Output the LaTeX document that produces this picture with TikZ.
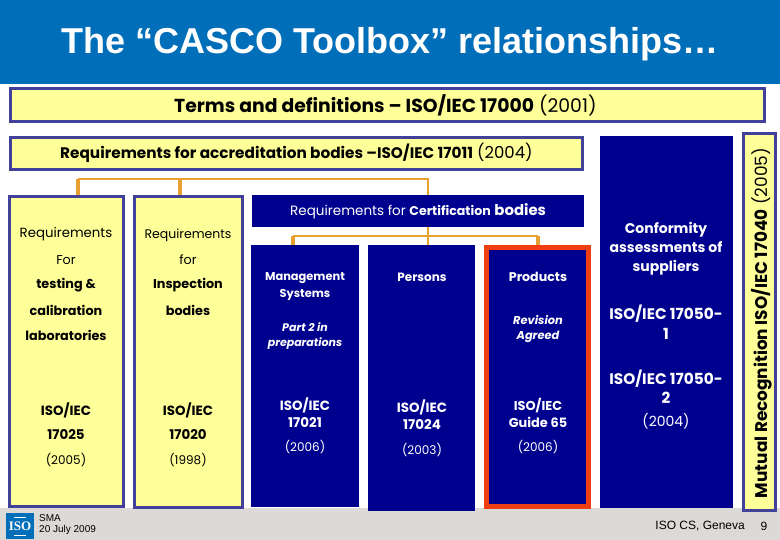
\documentclass[tikz,border=0pt]{standalone}
\usepackage{fontspec}
\setmainfont{Poppins}
\newfontfamily\titlefont{Liberation Sans}
\newfontfamily\logofont{Liberation Serif}
\definecolor{isoblue}{HTML}{006EB8}
\definecolor{darkbox}{HTML}{00008F}
\definecolor{edgeblue}{HTML}{41419B}
\definecolor{paleyellow}{HTML}{FFFF99}
\definecolor{linkorange}{HTML}{E8A030}
\definecolor{redframe}{HTML}{EE3E12}
\definecolor{footgray}{HTML}{DCD9D7}
\newcommand{\fsz}[1]{\fontsize{#1}{#1}\selectfont}
\tikzset{
  yellowbox/.style={draw=edgeblue, line width=3pt, fill=paleyellow, inner sep=0pt, anchor=north west},
  bluebox/.style={fill=darkbox, inner sep=0pt, anchor=north west},
  link/.style={draw=linkorange, line width=2pt},
  legthick/.style={draw=linkorange, line width=4pt},
  dark/.style={font=\fontsize{12.8}{14}\selectfont, text=black, inner sep=0pt, align=center},
  light/.style={font=\fontsize{12}{14}\selectfont, text=white, inner sep=0pt, align=center},
}
\begin{document}
\begin{tikzpicture}[x=1pt, y=-1pt]
\useasboundingbox (0, 0) rectangle (780, 540);
    \fill[white] (0, 0) rectangle (780, 540);
    \fill[footgray] (0, 508) rectangle (780, 540);
    \fill[isoblue] (0, 0) rectangle (780, 84);

    \node[anchor=west, inner sep=0pt, text=white, font=\titlefont\bfseries\fontsize{36}{40}\selectfont] (title) at (61, 44) {The “CASCO Toolbox” relationships…};

    % yellow bars
    \node[yellowbox, minimum width=754pt, minimum height=33pt] (terms) at (9, 87) {};
    \node[yellowbox, minimum width=572pt, minimum height=32pt] (accred) at (9, 136) {};
    \node[yellowbox, minimum width=114pt, minimum height=310pt] (testing) at (8, 195) {};
    \node[yellowbox, minimum width=108pt, minimum height=311pt] (inspect) at (133, 195) {};
    \node[yellowbox, minimum width=32pt, minimum height=377pt] (mutual) at (742, 132) {};

    % dark boxes
    \node[bluebox, minimum width=332pt, minimum height=32pt] (cert) at (252, 195) {};
    \node[bluebox, minimum width=108pt, minimum height=262pt] (mgmt) at (251, 245) {};
    \node[bluebox, minimum width=107pt, minimum height=266pt] (persons) at (368, 245) {};
    \node[bluebox, draw=redframe, line width=5pt, minimum width=102pt, minimum height=259pt] (products) at (484, 245) {};
    \node[bluebox, minimum width=133pt, minimum height=372pt] (conform) at (600, 136) {};

    % orange links
    \coordinate (upleft) at (78, 179);
    \coordinate (upmid) at (180, 179);
    \coordinate (upright) at (428, 179);
    \coordinate (lowleft) at (293, 236);
    \coordinate (lowmid) at (428, 236);
    \coordinate (lowright) at (538, 236);
    \draw[link] (upleft) -- (upright) -- (cert.north -| upright);
    \draw[legthick] (upleft) -- (testing.north -| upleft);
    \draw[legthick] (upmid) -- (inspect.north -| upmid);
    \draw[link] (cert.south -| lowmid) -- (mgmt.north -| lowmid);
    \draw[link] (lowleft) -- (lowright);
    \draw[legthick] (lowleft) -- (mgmt.north -| lowleft);
    \draw[legthick] (lowright) -- (products.north -| lowright);

    % bar labels
    \node[dark, anchor=west, font=\fsz{18.8}] (termstext) at (174, 105) {\textbf{Terms and definitions – ISO/IEC 17000} (2001)};
    \node[dark, anchor=west, font=\fsz{15.3}] (accredtext) at (60, 153) {\textbf{Requirements for accreditation bodies –ISO/IEC 17011} \fsz{16.5}(2004)};
    \node[light, anchor=west, font=\fsz{13.5}] (certtext) at (290, 211) {Requirements for \textbf{\fsz{12.6}Certification} \textbf{\fsz{14.9}bodies}};
    \node[dark, rotate=90, font=\fsz{16.9}] (mutualtext) at (762, 323) {\textbf{Mutual Recognition ISO/IEC 17040} (2005)};

    % testing column
    \node[dark, font=\fsz{13.3}] (t1) at (66, 234) {Requirements};
    \node[dark] (t2) at (66, 260) {For};
    \node[dark] (t3) at (66, 285) {\textbf{testing \&}};
    \node[dark] (t4) at (66, 310) {\textbf{calibration}};
    \node[dark] (t5) at (66, 335) {\textbf{laboratories}};
    \node[dark, font=\fsz{13.4}] (t6) at (66, 410) {\textbf{ISO/IEC}};
    \node[dark, font=\fsz{13.4}] (t7) at (66, 435) {\textbf{17025}};
    \node[dark, font=\fsz{12}] (t8) at (66, 460) {(2005)};

    % inspection column
    \node[dark, font=\fsz{12.5}] (i1) at (188, 235) {Requirements};
    \node[dark] (i2) at (188, 260) {for};
    \node[dark] (i3) at (188, 285) {\textbf{Inspection}};
    \node[dark] (i4) at (188, 310) {\textbf{bodies}};
    \node[dark, font=\fsz{13.4}] (i5) at (188, 410) {\textbf{ISO/IEC}};
    \node[dark, font=\fsz{13.4}] (i6) at (188, 435) {\textbf{17020}};
    \node[dark, font=\fsz{12}] (i7) at (188, 460) {(1998)};

    % certification columns
    \node[light, font=\bfseries\fontsize{11.4}{17}\selectfont] (m1) at (305, 287) {Management\\Systems};
    \node[light, font=\bfseries\itshape\fontsize{11}{15}\selectfont] (m2) at (305, 336) {Part 2 in\\preparations};
    \node[light, font=\bfseries\fontsize{13.4}{17}\selectfont] (m3) at (305, 413) {ISO/IEC\\17021};
    \node[light] (m4) at (305, 447) {(2006)};

    \node[light, font=\bfseries\fontsize{12}{14}\selectfont] (p1) at (422, 277) {Persons};
    \node[light, font=\bfseries\fontsize{13.4}{17}\selectfont] (p2) at (422, 415) {ISO/IEC\\17024};
    \node[light] (p3) at (422, 450) {(2003)};

    \node[light, font=\bfseries\fontsize{12.6}{14}\selectfont] (r1) at (538, 277) {Products};
    \node[light, font=\bfseries\itshape\fontsize{11.4}{15}\selectfont] (r2) at (538, 329) {Revision\\Agreed};
    \node[light, font=\bfseries\fontsize{12.9}{17}\selectfont] (r3) at (538, 413) {ISO/IEC\\Guide 65};
    \node[light] (r4) at (538, 447) {(2006)};

    % conformity column
    \node[light, font=\bfseries\fontsize{14}{19}\selectfont] (c1) at (666, 249) {Conformity\\assessments of\\suppliers};
    \node[light, font=\bfseries\fontsize{15.3}{20}\selectfont] (c2) at (666, 322) {ISO/IEC 17050-\\1};
    \node[light, font=\bfseries\fontsize{15.3}{19}\selectfont] (c3) at (666, 387) {ISO/IEC 17050-\\2};
    \node[light, font=\fontsize{14}{16}\selectfont] (c4) at (666, 421) {(2004)};

    % footer
    \node[fill=isoblue, minimum width=28pt, minimum height=26pt, inner sep=0pt, text=white, font=\logofont\bfseries\fontsize{13}{14}\selectfont] (logo) at (20, 526) {ISO};
    \draw[white, line width=0.5pt] ([xshift=-6pt, yshift=-4pt]logo.north) -- ([xshift=6pt, yshift=-4pt]logo.north);
    \draw[white, line width=0.5pt] ([xshift=-6pt, yshift=4pt]logo.south) -- ([xshift=6pt, yshift=4pt]logo.south);
    \node[anchor=west, inner sep=0pt, font=\titlefont\fontsize{10}{11}\selectfont, align=left] (stamp) at (39, 525) {SMA\\20 July 2009};
    \node[anchor=east, inner sep=0pt, font=\titlefont\fontsize{12}{14}\selectfont] (place) at (745, 526) {ISO CS, Geneva};
    \node[inner sep=0pt, font=\titlefont\fontsize{12}{14}\selectfont] (page) at (764, 526) {9};
\end{tikzpicture}
\end{document}
